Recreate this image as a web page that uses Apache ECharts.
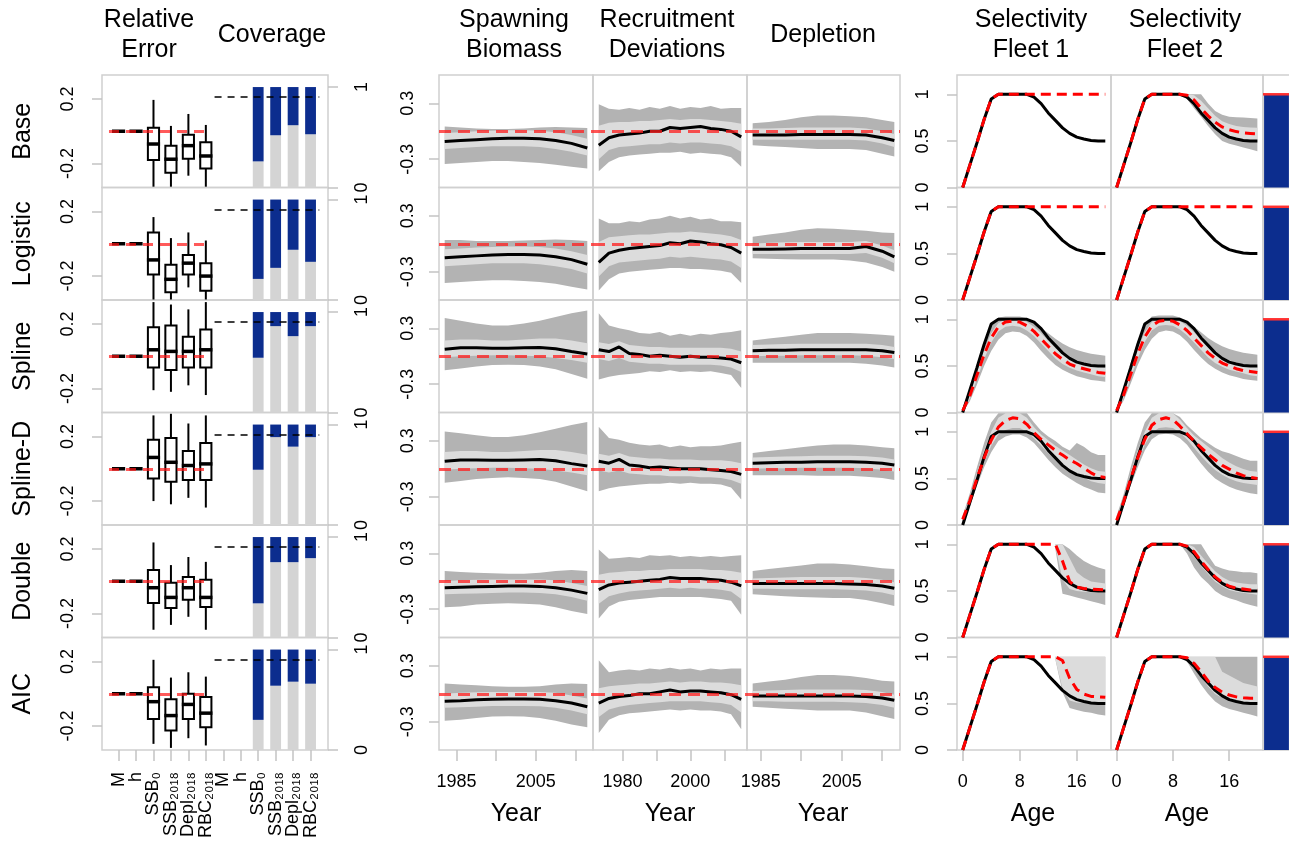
<!DOCTYPE html>
<html><head><meta charset="utf-8">
<script src="https://cdn.jsdelivr.net/npm/echarts@6/dist/echarts.min.js"></script>
<style>html,body{margin:0;padding:0;background:#fff}#c{width:1289px;height:849px}</style>
</head><body><div id="c"></div>
<script>
const _ = null;
const rowNames = ['Base','Logistic','Spline','Spline-D','Double','AIC'];
const reCats = ['M','h','SSB₀','SSB₂₀₁₈','Depl₂₀₁₈','RBC₂₀₁₈','M','h','SSB₀','SSB₂₀₁₈','Depl₂₀₁₈','RBC₂₀₁₈'];
const rePos = [1,2,3,4,5,6,7,8,9,10,11,12];
// relative error box stats [lo, q1, median, q3, hi] for M, h, SSB0, SSB2018, Depl2018, RBC2018
const reBase     = [[0,0,0,0,0],[0,0,0,0,0],[-0.343,-0.178,-0.079,0.022,0.194],[-0.343,-0.256,-0.173,-0.089,0.033],[-0.275,-0.17,-0.089,-0.021,0.107],[-0.343,-0.231,-0.153,-0.068,0.039]];
const reLogistic = [[0,0,0,0,0],[0,0,0,0,0],[-0.345,-0.19,-0.1,0.07,0.165],[-0.345,-0.3,-0.22,-0.13,0.035],[-0.27,-0.19,-0.12,-0.07,0.07],[-0.345,-0.29,-0.2,-0.12,0.02]];
const reSpline   = [[0,0,0,0,0],[0,0,0,0,0],[-0.21,-0.07,0.04,0.18,0.335],[-0.22,-0.085,0.03,0.19,0.32],[-0.18,-0.07,0.03,0.12,0.29],[-0.24,-0.07,0.04,0.165,0.335]];
const reSplineD  = [[0,0,0,0,0],[0,0,0,0,0],[-0.2,-0.06,0.07,0.18,0.33],[-0.22,-0.08,0.04,0.19,0.34],[-0.18,-0.07,0.02,0.11,0.28],[-0.24,-0.07,0.03,0.16,0.33]];
const reDouble   = [[0,0,0,0,0],[0,0,0,0,0],[-0.3,-0.135,-0.04,0.07,0.24],[-0.27,-0.165,-0.1,-0.01,0.1],[-0.22,-0.115,-0.04,0.027,0.15],[-0.3,-0.16,-0.1,0.01,0.12]];
const reAIC      = [[0,0,0,0,0],[0,0,0,0,0],[-0.31,-0.156,-0.049,0.04,0.21],[-0.335,-0.228,-0.135,-0.034,0.1],[-0.275,-0.156,-0.066,0.0,0.133],[-0.32,-0.207,-0.12,-0.02,0.106]];
// coverage: grey share (rest up to 1 is blue) for SSB0, SSB2018, Depl2018, RBC2018 (positions 9..12)
const covPos = [9,10,11,12];
const covBase     = [0.26,0.52,0.62,0.53];
const covLogistic = [0.21,0.32,0.5,0.38];
const covSpline   = [0.545,0.86,0.76,0.86];
const covSplineD  = [0.55,0.875,0.78,0.875];
const covDouble   = [0.34,0.75,0.75,0.79];
const covAIC      = [0.3,0.64,0.68,0.66];
const covTarget = 0.9;

// time series: [outerLo, innerLo, median, innerHi, outerHi]
const ssbYears = [1982,1986,1990,1994,1998,2002,2006,2010,2014,2018];
const recYears = [1973,1976,1979,1982,1985,1988,1991,1994,1997,2000,2003,2006,2009,2012,2015];
const depYears = [1983,1987,1991,1995,1999,2003,2007,2011,2015,2018];

const ssbBase = [
 [-0.35,-0.34,-0.33,-0.32,-0.32,-0.33,-0.34,-0.36,-0.38,-0.40],
 [-0.19,-0.18,-0.17,-0.16,-0.16,-0.16,-0.17,-0.19,-0.22,-0.26],
 [-0.11,-0.10,-0.09,-0.08,-0.075,-0.075,-0.08,-0.10,-0.13,-0.18],
 [-0.02,-0.01,0.0,0.005,0.01,0.01,0.005,-0.01,-0.04,-0.08],
 [0.05,0.04,0.03,0.025,0.025,0.03,0.04,0.045,0.04,0.035]];
const recBase = [
 [-0.43,-0.33,-0.28,-0.26,-0.25,-0.24,-0.23,-0.23,-0.22,-0.24,-0.23,-0.24,-0.25,-0.28,-0.38],
 [-0.3,-0.2,-0.17,-0.16,-0.15,-0.14,-0.14,-0.12,-0.13,-0.12,-0.12,-0.13,-0.14,-0.16,-0.22],
 [-0.15,-0.07,-0.04,-0.03,-0.02,0.0,0.0,0.04,0.03,0.04,0.05,0.03,0.02,0.0,-0.06],
 [0.06,0.09,0.1,0.1,0.11,0.11,0.12,0.13,0.12,0.13,0.13,0.12,0.11,0.1,0.08],
 [0.29,0.24,0.23,0.25,0.23,0.26,0.24,0.27,0.24,0.26,0.25,0.27,0.24,0.25,0.25]];
const depBase = [
 [-0.15,-0.16,-0.17,-0.18,-0.19,-0.19,-0.19,-0.2,-0.24,-0.27],
 [-0.09,-0.09,-0.09,-0.09,-0.09,-0.09,-0.09,-0.1,-0.13,-0.17],
 [-0.04,-0.04,-0.04,-0.035,-0.035,-0.035,-0.035,-0.04,-0.07,-0.10],
 [0.03,0.03,0.035,0.04,0.04,0.04,0.04,0.03,0.0,-0.03],
 [0.085,0.1,0.12,0.15,0.17,0.17,0.16,0.15,0.12,0.1]];

const ssbLogistic = [
 [-0.42,-0.41,-0.40,-0.39,-0.39,-0.40,-0.41,-0.43,-0.46,-0.49],
 [-0.24,-0.23,-0.22,-0.21,-0.21,-0.21,-0.22,-0.24,-0.27,-0.32],
 [-0.15,-0.14,-0.13,-0.12,-0.115,-0.115,-0.12,-0.14,-0.17,-0.22],
 [-0.06,-0.05,-0.04,-0.035,-0.03,-0.03,-0.035,-0.05,-0.08,-0.12],
 [0.04,0.04,0.03,0.03,0.03,0.035,0.04,0.045,0.04,0.03]];
const recLogistic = [
 [-0.5,-0.38,-0.32,-0.3,-0.29,-0.28,-0.27,-0.26,-0.26,-0.27,-0.27,-0.28,-0.29,-0.31,-0.42],
 [-0.35,-0.24,-0.2,-0.19,-0.18,-0.17,-0.16,-0.14,-0.15,-0.14,-0.15,-0.16,-0.17,-0.19,-0.26],
 [-0.2,-0.1,-0.07,-0.05,-0.04,-0.03,-0.02,0.01,0.0,0.03,0.02,0.0,-0.01,-0.04,-0.1],
 [0.02,0.07,0.08,0.09,0.1,0.1,0.11,0.12,0.12,0.13,0.12,0.11,0.1,0.08,0.04],
 [0.27,0.22,0.22,0.24,0.23,0.26,0.27,0.3,0.27,0.29,0.26,0.27,0.24,0.24,0.23]];
const depLogistic = [
 [-0.155,-0.16,-0.165,-0.17,-0.17,-0.17,-0.18,-0.2,-0.25,-0.3],
 [-0.11,-0.11,-0.11,-0.11,-0.11,-0.11,-0.11,-0.1,-0.15,-0.21],
 [-0.06,-0.06,-0.055,-0.05,-0.05,-0.05,-0.05,-0.03,-0.08,-0.14],
 [0.0,0.01,0.015,0.02,0.02,0.02,0.02,0.03,-0.02,-0.07],
 [0.075,0.1,0.12,0.15,0.165,0.16,0.15,0.14,0.12,0.115]];

const ssbSpline = [
 [-0.15,-0.13,-0.11,-0.095,-0.09,-0.095,-0.11,-0.14,-0.19,-0.24],
 [-0.01,0.0,0.005,0.01,0.01,0.005,0.0,-0.02,-0.04,-0.07],
 [0.075,0.09,0.09,0.085,0.085,0.09,0.095,0.08,0.05,0.025],
 [0.17,0.18,0.18,0.17,0.17,0.18,0.19,0.19,0.17,0.14],
 [0.41,0.38,0.35,0.33,0.33,0.35,0.38,0.42,0.46,0.49]];
const recSpline = [
 [-0.25,-0.22,-0.2,-0.19,-0.18,-0.16,-0.17,-0.15,-0.17,-0.16,-0.17,-0.16,-0.18,-0.2,-0.34],
 [-0.03,-0.05,-0.02,-0.06,-0.07,-0.08,-0.08,-0.09,-0.09,-0.09,-0.09,-0.09,-0.1,-0.12,-0.17],
 [0.07,0.05,0.1,0.03,0.02,0.0,0.01,0.0,-0.01,0.0,-0.01,-0.01,-0.02,-0.03,-0.07],
 [0.15,0.13,0.16,0.12,0.11,0.1,0.1,0.09,0.09,0.09,0.09,0.09,0.09,0.08,0.05],
 [0.46,0.33,0.3,0.28,0.25,0.24,0.26,0.22,0.24,0.22,0.24,0.23,0.25,0.26,0.28]];
const depSpline = [
 [-0.07,-0.07,-0.07,-0.07,-0.07,-0.07,-0.07,-0.08,-0.1,-0.12],
 [0.0,0.005,0.005,0.01,0.01,0.01,0.01,0.005,-0.01,-0.03],
 [0.06,0.065,0.065,0.07,0.07,0.07,0.07,0.07,0.06,0.04],
 [0.12,0.125,0.13,0.135,0.135,0.135,0.135,0.135,0.12,0.1],
 [0.17,0.19,0.21,0.23,0.25,0.25,0.25,0.24,0.23,0.22]];

const ssbSplineD = [
 [-0.15,-0.13,-0.11,-0.1,-0.09,-0.1,-0.11,-0.14,-0.19,-0.24],
 [-0.01,0.0,0.005,0.01,0.01,0.005,0.0,-0.02,-0.04,-0.07],
 [0.08,0.095,0.095,0.09,0.09,0.095,0.1,0.085,0.055,0.03],
 [0.18,0.19,0.19,0.18,0.18,0.19,0.2,0.2,0.18,0.15],
 [0.4,0.38,0.36,0.34,0.34,0.36,0.39,0.43,0.47,0.5]];
const recSplineD = [
 [-0.24,-0.21,-0.19,-0.18,-0.17,-0.16,-0.16,-0.15,-0.16,-0.15,-0.16,-0.16,-0.17,-0.2,-0.33],
 [-0.02,-0.04,-0.02,-0.05,-0.06,-0.07,-0.07,-0.08,-0.08,-0.08,-0.09,-0.09,-0.1,-0.12,-0.16],
 [0.08,0.06,0.1,0.04,0.03,0.01,0.02,0.01,0.0,0.0,0.0,-0.01,-0.02,-0.03,-0.06],
 [0.16,0.14,0.17,0.13,0.12,0.11,0.11,0.1,0.1,0.1,0.09,0.09,0.09,0.08,0.06],
 [0.45,0.33,0.31,0.28,0.26,0.25,0.26,0.23,0.25,0.23,0.24,0.24,0.25,0.27,0.29]];
const depSplineD = [
 [-0.07,-0.07,-0.07,-0.07,-0.075,-0.075,-0.075,-0.085,-0.1,-0.12],
 [0.0,0.005,0.005,0.01,0.01,0.01,0.01,0.005,-0.01,-0.03],
 [0.06,0.065,0.07,0.07,0.075,0.075,0.075,0.07,0.06,0.04],
 [0.12,0.125,0.13,0.135,0.14,0.14,0.14,0.135,0.12,0.1],
 [0.17,0.19,0.21,0.23,0.25,0.26,0.26,0.25,0.23,0.22]];

const ssbDouble = [
 [-0.28,-0.27,-0.25,-0.24,-0.235,-0.24,-0.25,-0.28,-0.32,-0.35],
 [-0.14,-0.135,-0.13,-0.125,-0.12,-0.12,-0.125,-0.14,-0.17,-0.21],
 [-0.07,-0.065,-0.06,-0.055,-0.05,-0.05,-0.055,-0.07,-0.095,-0.13],
 [0.0,0.01,0.015,0.02,0.02,0.02,0.02,0.01,-0.02,-0.05],
 [0.11,0.1,0.09,0.085,0.08,0.08,0.09,0.11,0.12,0.11]];
const recDouble = [
 [-0.4,-0.27,-0.22,-0.2,-0.19,-0.18,-0.17,-0.17,-0.17,-0.17,-0.17,-0.18,-0.19,-0.21,-0.36],
 [-0.24,-0.16,-0.13,-0.11,-0.1,-0.09,-0.08,-0.07,-0.08,-0.07,-0.08,-0.08,-0.09,-0.11,-0.19],
 [-0.09,-0.04,-0.02,-0.01,0.0,0.01,0.02,0.04,0.03,0.03,0.03,0.02,0.01,-0.01,-0.05],
 [0.07,0.09,0.1,0.11,0.11,0.12,0.12,0.13,0.13,0.13,0.13,0.12,0.12,0.11,0.09],
 [0.34,0.24,0.25,0.26,0.25,0.28,0.27,0.28,0.26,0.27,0.26,0.27,0.26,0.27,0.28]];
const depDouble = [
 [-0.14,-0.15,-0.16,-0.17,-0.175,-0.18,-0.18,-0.2,-0.235,-0.265],
 [-0.08,-0.08,-0.085,-0.085,-0.085,-0.085,-0.09,-0.1,-0.12,-0.15],
 [-0.025,-0.025,-0.025,-0.025,-0.025,-0.025,-0.03,-0.035,-0.05,-0.075],
 [0.03,0.035,0.04,0.045,0.045,0.045,0.045,0.035,0.015,-0.01],
 [0.11,0.13,0.15,0.17,0.19,0.19,0.18,0.16,0.14,0.13]];

const ssbAIC = [
 [-0.29,-0.28,-0.26,-0.245,-0.24,-0.245,-0.26,-0.29,-0.33,-0.36],
 [-0.15,-0.145,-0.14,-0.13,-0.13,-0.13,-0.135,-0.15,-0.18,-0.22],
 [-0.08,-0.075,-0.065,-0.06,-0.055,-0.055,-0.06,-0.075,-0.1,-0.14],
 [0.0,0.01,0.015,0.02,0.02,0.02,0.02,0.01,-0.02,-0.05],
 [0.11,0.1,0.09,0.08,0.075,0.075,0.08,0.1,0.11,0.105]];
const recAIC = [
 [-0.42,-0.28,-0.23,-0.21,-0.2,-0.19,-0.18,-0.17,-0.18,-0.17,-0.18,-0.18,-0.19,-0.22,-0.38],
 [-0.25,-0.17,-0.14,-0.12,-0.11,-0.1,-0.09,-0.08,-0.08,-0.08,-0.08,-0.09,-0.1,-0.12,-0.2],
 [-0.1,-0.05,-0.03,-0.02,0.0,0.0,0.02,0.04,0.02,0.03,0.03,0.02,0.01,-0.01,-0.06],
 [0.06,0.08,0.09,0.1,0.11,0.11,0.12,0.13,0.12,0.13,0.13,0.12,0.12,0.11,0.09],
 [0.36,0.23,0.25,0.26,0.25,0.27,0.26,0.28,0.26,0.27,0.25,0.27,0.26,0.27,0.27]];
const depAIC = [
 [-0.14,-0.15,-0.16,-0.17,-0.18,-0.18,-0.18,-0.2,-0.24,-0.27],
 [-0.08,-0.08,-0.085,-0.085,-0.085,-0.085,-0.09,-0.1,-0.12,-0.15],
 [-0.025,-0.025,-0.025,-0.025,-0.025,-0.025,-0.025,-0.03,-0.045,-0.07],
 [0.03,0.035,0.04,0.045,0.045,0.045,0.045,0.04,0.02,-0.01],
 [0.11,0.13,0.15,0.18,0.2,0.2,0.19,0.17,0.14,0.13]];

// selectivity by age
const ages = [0,1,2,3,4,5,6,7,8,9,10,11,12,13,14,15,16,17,18,19,20];
const selTrue = [0,0.24,0.48,0.73,0.95,1,1,1,1,1,0.97,0.9,0.8,0.72,0.64,0.58,0.54,0.52,0.505,0.5,0.5];
const selLogisticEst = [0,0.24,0.48,0.73,0.95,1,1,1,1,1,1,1,1,1,1,1,1,1,1,1,1];
// bands: [outerLo, innerLo, innerHi, outerHi]
const selBaseF1Est = selLogisticEst;
const selBaseF2Est = [0,0.24,0.48,0.73,0.95,1,1,1,1,1,0.99,0.94,0.85,0.77,0.7,0.65,0.62,0.6,0.585,0.58,0.575];
const selBaseF2Band = [
 [_,_,_,_,_,_,_,_,_,1,0.95,0.85,0.76,0.66,0.57,0.5,0.47,0.45,0.43,0.41,0.39],
 [_,_,_,_,_,_,_,_,_,1,0.98,0.91,0.82,0.73,0.65,0.59,0.55,0.53,0.52,0.51,0.5],
 [_,_,_,_,_,_,_,_,_,1,1,0.99,0.93,0.85,0.77,0.71,0.68,0.66,0.65,0.645,0.64],
 [_,_,_,_,_,_,_,_,_,1,1,1,1,0.9,0.82,0.78,0.76,0.755,0.75,0.745,0.74]];
const selSplineF1Est = [0.02,0.18,0.4,0.62,0.8,0.92,0.97,0.98,0.97,0.93,0.87,0.79,0.71,0.63,0.57,0.52,0.49,0.47,0.45,0.43,0.42];
const selSplineF1Band = [
 [0,0.12,0.3,0.5,0.66,0.78,0.85,0.87,0.86,0.82,0.75,0.66,0.58,0.51,0.46,0.42,0.39,0.37,0.35,0.34,0.33],
 [0.01,0.15,0.36,0.57,0.75,0.87,0.92,0.93,0.92,0.88,0.82,0.74,0.66,0.58,0.52,0.48,0.45,0.43,0.41,0.39,0.38],
 [0.03,0.21,0.44,0.67,0.85,0.96,1.0,1.0,1.0,0.97,0.92,0.85,0.77,0.69,0.63,0.58,0.55,0.53,0.51,0.49,0.48],
 [0.05,0.26,0.52,0.76,0.94,1.02,1.03,1.03,1.03,1.01,0.97,0.91,0.85,0.79,0.74,0.7,0.67,0.65,0.63,0.62,0.61]];
const selSplineF2Est = [0.02,0.19,0.41,0.63,0.81,0.93,0.98,0.99,0.98,0.94,0.88,0.8,0.72,0.64,0.58,0.53,0.5,0.47,0.45,0.44,0.43];
const selSplineF2Band = [
 [0,0.13,0.31,0.51,0.67,0.79,0.86,0.88,0.87,0.83,0.76,0.67,0.59,0.52,0.47,0.43,0.4,0.38,0.36,0.35,0.34],
 [0.01,0.16,0.37,0.58,0.76,0.88,0.93,0.94,0.93,0.89,0.83,0.75,0.67,0.59,0.53,0.49,0.46,0.44,0.42,0.4,0.39],
 [0.03,0.22,0.45,0.68,0.86,0.97,1.01,1.01,1.01,0.98,0.93,0.86,0.78,0.7,0.64,0.59,0.56,0.53,0.51,0.5,0.49],
 [0.05,0.27,0.53,0.77,0.95,1.03,1.04,1.04,1.04,1.02,0.98,0.92,0.86,0.8,0.75,0.71,0.68,0.66,0.64,0.63,0.62]];
const selSplineDF1Est = [0.06,0.26,0.5,0.72,0.91,1.05,1.12,1.15,1.14,1.08,0.99,0.92,0.86,0.8,0.75,0.7,0.66,0.61,0.56,0.52,0.51];
const selSplineDF1Band = [
 [0.02,0.2,0.42,0.62,0.78,0.9,0.95,0.97,0.97,0.94,0.88,0.79,0.7,0.62,0.55,0.5,0.45,0.41,0.38,0.35,0.34],
 [0.04,0.23,0.46,0.67,0.85,0.97,1.02,1.04,1.04,1.0,0.93,0.85,0.77,0.7,0.64,0.59,0.55,0.51,0.47,0.45,0.44],
 [0.08,0.3,0.56,0.8,1.0,1.15,1.2,1.2,1.2,1.15,1.05,0.97,0.91,0.85,0.8,0.75,0.7,0.65,0.61,0.58,0.57],
 [0.1,0.34,0.62,0.88,1.1,1.2,1.2,1.2,1.2,1.2,1.1,1.01,0.95,0.9,0.84,0.8,0.88,0.84,0.78,0.75,0.75]];
const selSplineDF2Est = [0.05,0.25,0.5,0.72,0.92,1.07,1.13,1.15,1.13,1.06,0.98,0.9,0.83,0.76,0.7,0.64,0.6,0.56,0.53,0.51,0.5];
const selSplineDF2Band = [
 [0.02,0.2,0.42,0.62,0.8,0.92,0.97,0.98,0.97,0.93,0.86,0.76,0.66,0.57,0.5,0.45,0.41,0.38,0.36,0.34,0.33],
 [0.04,0.23,0.46,0.67,0.86,0.99,1.04,1.05,1.04,0.99,0.92,0.83,0.74,0.66,0.59,0.54,0.5,0.47,0.45,0.44,0.43],
 [0.07,0.29,0.56,0.8,1.0,1.15,1.2,1.2,1.2,1.13,1.04,0.96,0.9,0.84,0.78,0.72,0.67,0.63,0.6,0.58,0.57],
 [0.1,0.33,0.62,0.88,1.1,1.2,1.2,1.2,1.2,1.16,1.07,1.0,0.93,0.88,0.83,0.79,0.77,0.74,0.71,0.69,0.69]];
const selDoubleF1Est = [0,0.24,0.48,0.73,0.95,1,1,1,1,1,1,1,1,1,0.82,0.6,0.54,0.525,0.52,0.515,0.51];
const selDoubleF1Band = [
 [_,_,_,_,_,_,_,_,_,_,_,_,_,0.95,0.47,0.45,0.43,0.41,0.39,0.37,0.35],
 [_,_,_,_,_,_,_,_,_,_,_,_,_,0.98,0.62,0.52,0.5,0.49,0.485,0.48,0.48],
 [_,_,_,_,_,_,_,_,_,_,_,_,_,1,1,0.85,0.7,0.64,0.6,0.59,0.58],
 [_,_,_,_,_,_,_,_,_,_,_,_,_,1,1,0.95,0.88,0.82,0.78,0.75,0.73]];
const selDoubleF2Est = [0,0.24,0.48,0.73,0.95,1,1,1,1,1,0.98,0.92,0.82,0.73,0.65,0.59,0.55,0.53,0.52,0.51,0.51];
const selDoubleF2Band = [
 [_,_,_,_,_,_,_,_,_,1,0.9,0.75,0.65,0.58,0.5,0.45,0.42,0.4,0.37,0.35,0.33],
 [_,_,_,_,_,_,_,_,_,1,0.95,0.87,0.77,0.68,0.6,0.55,0.51,0.49,0.48,0.47,0.46],
 [_,_,_,_,_,_,_,_,_,1,1,0.97,0.88,0.79,0.71,0.65,0.61,0.59,0.58,0.57,0.57],
 [_,_,_,_,_,_,_,_,_,1,1,1,1,0.88,0.77,0.74,0.72,0.71,0.7,0.7,0.69]];
const selAICF1Est = [0,0.24,0.48,0.73,0.95,1,1,1,1,1,1,1,1,1,0.96,0.77,0.65,0.6,0.575,0.57,0.565];
const selAICF1Band = [
 [_,_,_,_,_,_,_,_,_,_,_,_,_,0.97,0.62,0.45,0.43,0.41,0.4,0.38,0.37],
 [_,_,_,_,_,_,_,_,_,_,_,_,_,0.97,0.66,0.53,0.51,0.505,0.5,0.5,0.5],
 [_,_,_,_,_,_,_,_,_,_,_,_,_,1,1,1,1,1,1,1,1],
 [_,_,_,_,_,_,_,_,_,_,_,_,_,1,1,1,1,1,1,1,1]];
const selAICF2Est = [0,0.24,0.48,0.73,0.95,1,1,1,1,1,0.99,0.93,0.84,0.74,0.67,0.62,0.59,0.57,0.56,0.555,0.555];
const selAICF2Band = [
 [_,_,_,_,_,_,_,_,_,1,0.95,0.82,0.7,0.6,0.52,0.47,0.44,0.42,0.4,0.38,0.36],
 [_,_,_,_,_,_,_,_,_,1,0.97,0.88,0.78,0.68,0.6,0.56,0.53,0.52,0.51,0.5,0.5],
 [_,_,_,_,_,_,_,_,_,1,1,1,1,1,1,0.84,0.8,0.76,0.72,0.7,0.68],
 [_,_,_,_,_,_,_,_,_,1,1,1,1,1,1,1,1,1,1,1,1]];
const converged = [1,1,1,1,1,1];

// ---- assemble per row ----
const reRows  = [reBase, reLogistic, reSpline, reSplineD, reDouble, reAIC];
const covRows = [covBase, covLogistic, covSpline, covSplineD, covDouble, covAIC];
const tsRows  = [[ssbBase,recBase,depBase],[ssbLogistic,recLogistic,depLogistic],[ssbSpline,recSpline,depSpline],
                 [ssbSplineD,recSplineD,depSplineD],[ssbDouble,recDouble,depDouble],[ssbAIC,recAIC,depAIC]];
const tsYearList = [ssbYears, recYears, depYears];
const selRows = [
 [[selBaseF1Est,null],[selBaseF2Est,selBaseF2Band]],
 [[selLogisticEst,null],[selLogisticEst,null]],
 [[selSplineF1Est,selSplineF1Band],[selSplineF2Est,selSplineF2Band]],
 [[selSplineDF1Est,selSplineDF1Band],[selSplineDF2Est,selSplineDF2Band]],
 [[selDoubleF1Est,selDoubleF1Band],[selDoubleF2Est,selDoubleF2Band]],
 [[selAICF1Est,selAICF1Band],[selAICF2Est,selAICF2Band]]];

const FONT = '"Liberation Sans", Arial, Helvetica, sans-serif';
const LBL = {color:'#000', fontSize:18, fontFamily:FONT, formatter: v => String(v), showMinLabel:true, showMaxLabel:true, hideOverlap:false};
const PANELS = [[102,328],[439,593],[593,747],[747,900],[957,1111],[1111,1263],[1263,1290]];
const ROW_TOP = 75, ROW_H = 112.5;
const XR = [[0.05,13.0],[1980.56,2019.44],[1971.3,2016.7],[1981.6,2019.4],[-0.8,20.8],[-0.8,20.8],[0,1]];
const YR = [[-0.348,0.348],[-0.603,0.603],[-0.603,0.603],[-0.603,0.603],[0,1.207],[0,1.207],[0,1.207]];
const XT = [rePos,[1985,1995,2005,2015],[1980,1990,2000,2010],[1985,1995,2005,2015],[0,8,16],[0,8,16],null];
const XL = [rePos.filter(v=>v%2===1),[1985,2005],[1980,2000],[1985,2005],[0,8,16],[0,8,16],null];
const YL = [[-0.2,0.2],[-0.3,0.3],null,null,[0,0.5,1],null,null];
const YM = [25,22,0,0,25,0,0];
const TICKC = {color:'#c4c4c4', width:1.5};
const OUTER = '#b3b3b3', INNER = '#dcdcdc', BLUE = '#0c2d8e', GREYBAR = '#d4d4d4';
const RED_TS = 'rgba(255,30,30,0.75)';

const grids=[], xAxes=[], yAxes=[], covAxes=[], series=[];

function bandSeries(gi, xs, lo, hi, color, z){
  return {type:'custom', xAxisIndex:gi, yAxisIndex:gi, silent:true, z:z, data:[[xs[0],0]],
    renderItem(params, api){
      const top=[], bot=[];
      for(let i=0;i<xs.length;i++){
        if(lo[i]==null||hi[i]==null) continue;
        top.push(api.coord([xs[i],hi[i]])); bot.push(api.coord([xs[i],lo[i]]));
      }
      return {type:'polygon', shape:{points: top.concat(bot.reverse())}, style:{fill:color}};
    }};
}
function boxSeries(gi, data, z){
  return {type:'custom', xAxisIndex:gi, yAxisIndex:gi, silent:true, z:z, data:data,
    renderItem(params, api){
      const x=api.value(0), lo=api.value(1), q1=api.value(2), md=api.value(3), q3=api.value(4), hi=api.value(5);
      const hw=0.32;
      const pLo=api.coord([x,lo]), pHi=api.coord([x,hi]), pQ1=api.coord([x,q1]), pQ3=api.coord([x,q3]), pM=api.coord([x,md]);
      const xl=api.coord([x-hw,0])[0], xr=api.coord([x+hw,0])[0];
      const st={stroke:'#000', lineWidth:2};
      return {type:'group', children:[
        {type:'line', shape:{x1:pHi[0],y1:pHi[1],x2:pQ3[0],y2:pQ3[1]}, style:st},
        {type:'line', shape:{x1:pLo[0],y1:pLo[1],x2:pQ1[0],y2:pQ1[1]}, style:st},
        {type:'rect', shape:{x:xl,y:pQ3[1],width:xr-xl,height:pQ1[1]-pQ3[1]}, style:{fill:'#fff',stroke:'#000',lineWidth:2}},
        {type:'line', shape:{x1:xl-1,y1:pM[1],x2:xr+1,y2:pM[1]}, style:{stroke:'#000',lineWidth:3.5}}
      ]};
    }};
}
function covSeries(gi, yi, data){
  return {type:'custom', xAxisIndex:gi, yAxisIndex:yi, silent:true, z:2, data:data,
    renderItem(params, api){
      const x=api.value(0), g=api.value(1);
      const hw=0.31;
      const p0=api.coord([x-hw,0]), pg=api.coord([x+hw,g]), p1=api.coord([x+hw,1]);
      return {type:'group', children:[
        {type:'rect', shape:{x:p0[0], y:pg[1], width:pg[0]-p0[0], height:p0[1]-pg[1]}, style:{fill:GREYBAR}},
        {type:'rect', shape:{x:p0[0], y:p1[1], width:p1[0]-p0[0], height:pg[1]-p1[1]}, style:{fill:BLUE}}
      ]};
    }};
}
function lineSeries(gi, xs, ys, color, width, dash, z, yi){
  return {type:'line', xAxisIndex:gi, yAxisIndex:(yi==null?gi:yi), silent:true, z:z, symbol:'none', showSymbol:false,
    data: xs.map((x,i)=>[x,ys[i]]), lineStyle:{color:color, width:width, type: dash||'solid', cap:'butt'}, emphasis:{disabled:true}};
}

for(let r=0;r<6;r++){
  const top = ROW_TOP + r*ROW_H, last = (r===5);
  for(let p=0;p<7;p++){
    const gi = r*7+p;
    grids.push({left:PANELS[p][0], top:top, width:PANELS[p][1]-PANELS[p][0], height:ROW_H, show:true,
      borderColor:'#d0d0d0', borderWidth:1.5, backgroundColor:'transparent', containLabel:false, outerBoundsMode:'none'});
    const xa = {type:'value', gridIndex:gi, min:XR[p][0], max:XR[p][1], show: last && p<6, position:'bottom',
      axisLine:{show:false, onZero:false}, splitLine:{show:false}};
    if(last && p<6){
      xa.axisTick = {show:true, customValues:XT[p], length:11, lineStyle:TICKC};
      xa.axisLabel = Object.assign({show:true, customValues:XL[p], margin:23}, LBL);
      if(p===0){ xa.axisLabel.rotate = 90; xa.axisLabel.margin = 22;
        xa.axisLabel.formatter = v => reCats[Math.round(v)-1]; }
    }
    xAxes.push(xa);
    const ya = {type:'value', gridIndex:gi, min:YR[p][0], max:YR[p][1], position:'left', show: !!YL[p],
      axisLine:{show:false, onZero:false}, splitLine:{show:false}};
    if(YL[p]){
      ya.axisTick = {show:true, customValues:YL[p], length:10, lineStyle:TICKC};
      ya.axisLabel = Object.assign({show:true, customValues:YL[p], rotate:90, margin:YM[p]}, LBL);
    }
    yAxes.push(ya);
  }
  covAxes.push({type:'value', gridIndex:r*7, position:'right', min:0, max:1.12, show:true,
    axisLine:{show:false, onZero:false}, splitLine:{show:false},
    axisTick:{show:true, customValues:[0,1], length:10, lineStyle:TICKC},
    axisLabel:Object.assign({show:true, customValues:[0,1], rotate:90, margin:25}, LBL)});
}
// second label axis for the even category positions of the bottom relative-error panel
xAxes.push({type:'value', gridIndex:35, min:XR[0][0], max:XR[0][1], show:true, position:'bottom',
  axisLine:{show:false, onZero:false}, splitLine:{show:false}, axisTick:{show:false},
  axisLabel:Object.assign({}, LBL, {show:true, customValues:rePos.filter(v=>v%2===0), rotate:90, margin:22,
    formatter: v => reCats[Math.round(v)-1]})});
const COV0 = yAxes.length;

for(let r=0;r<6;r++){
  const g0 = r*7;
  // relative error
  const boxes = reRows[r].map((b,i)=>[rePos[i]].concat(b));
  series.push(boxSeries(g0, boxes.slice(0,2), 2));
  series.push({type:'line', xAxisIndex:g0, yAxisIndex:g0, silent:true, z:3, data:[], symbol:'none',
    markLine:{silent:true, symbol:['none','none'], label:{show:false}, animation:false,
      lineStyle:{color:'rgba(255,20,20,0.7)', width:3, type:[10,7]},
      data:[[{coord:[0.45,0]},{coord:[6.05,0]}]]}});
  series.push(boxSeries(g0, boxes.slice(2), 4));
  // coverage
  const cv = covRows[r];
  series.push(covSeries(g0, COV0+r, cv.map((g,i)=>[covPos[i], g])));
  series.push({type:'line', xAxisIndex:g0, yAxisIndex:COV0+r, silent:true, z:5, data:[], symbol:'none',
    markLine:{silent:true, symbol:['none','none'], label:{show:false}, animation:false,
      lineStyle:{color:'#000', width:1.5, type:[7,6]},
      data:[[{coord:[6.5,covTarget]},{coord:[12.5,covTarget]}]]}});
  // time series panels
  for(let k=0;k<3;k++){
    const gi = g0+1+k, d = tsRows[r][k], xs = tsYearList[k];
    series.push(bandSeries(gi, xs, d[0], d[4], OUTER, 1));
    series.push(bandSeries(gi, xs, d[1], d[3], INNER, 2));
    const ml = lineSeries(gi, xs, d[2], '#000', 3, 'solid', 3);
    ml.markLine = {silent:true, symbol:['none','none'], label:{show:false}, animation:false,
      lineStyle:{color:RED_TS, width:3, type:[12,7]}, data:[{yAxis:0}]};
    series.push(ml);
  }
  // selectivity panels
  for(let f=0;f<2;f++){
    const gi = g0+4+f, est = selRows[r][f][0], band = selRows[r][f][1];
    if(band){
      series.push(bandSeries(gi, ages, band[0], band[3], OUTER, 1));
      series.push(bandSeries(gi, ages, band[1], band[2], INNER, 2));
    }
    series.push(lineSeries(gi, ages, selTrue, '#000', 3, 'solid', 3));
    series.push(lineSeries(gi, ages, est, '#ff0000', 3, [10,6], 4));
  }
  // convergence strip
  series.push({type:'custom', xAxisIndex:g0+6, yAxisIndex:g0+6, silent:true, z:2, data:[[0.5, converged[r]]],
    renderItem(params, api){
      const v = api.value(1);
      const a = api.coord([0.04,0]), b = api.coord([0.96,v]);
      const l0 = api.coord([0,v]), l1 = api.coord([1,v]);
      return {type:'group', children:[
        {type:'rect', shape:{x:a[0], y:b[1], width:b[0]-a[0], height:a[1]-b[1]}, style:{fill:BLUE}},
        {type:'line', shape:{x1:l0[0], y1:l0[1], x2:l1[0], y2:l1[1]}, style:{stroke:'#ff3030', lineWidth:2.5}}
      ]};
    }});
}

// texts
const graphic = [];
function txt(t, x, y, rot, va){
  graphic.push({type:'text', x:x, y:y, rotation:rot||0, silent:true,
    style:{text:t, fill:'#000', font:'25px '+FONT, textAlign:'center', textVerticalAlign:va||'top', lineHeight:30}});
}
const colTitles = ['Relative\nError','Coverage','Spawning\nBiomass','Recruitment\nDeviations','Depletion','Selectivity\nFleet 1','Selectivity\nFleet 2'];
const colTitleX = [149,272,514,667,823,1031,1185];
colTitles.forEach((t,i)=>txt(t, colTitleX[i], t.indexOf('\n')>=0 ? 5 : 20));
rowNames.forEach((n,r)=>txt(n, 23, ROW_TOP + r*ROW_H + ROW_H/2, Math.PI/2, 'middle'));
[516,670,823].forEach(x=>txt('Year', x, 814, 0, 'middle'));
[1033,1187].forEach(x=>txt('Age', x, 814, 0, 'middle'));

const chart = echarts.init(document.getElementById('c'), null, {renderer:'canvas'});
chart.setOption({animation:false, backgroundColor:'#fff', grid:grids, xAxis:xAxes, yAxis:yAxes.concat(covAxes), series:series, graphic:graphic});
</script></body></html>
